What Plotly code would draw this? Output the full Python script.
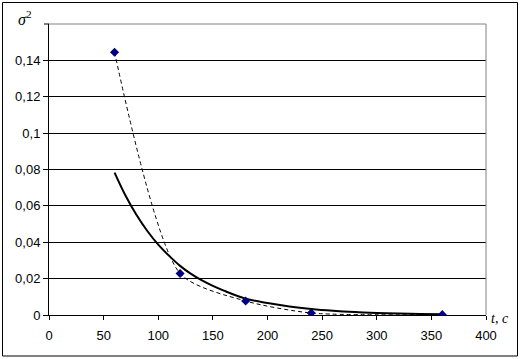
import plotly.graph_objects as go

# Measured data points
t_points = [60, 120, 180, 240, 360]
sigma2_points = [0.1445, 0.0228, 0.0077, 0.0011, 0.0002]

# Solid approximation curve
t_curve = [60, 70, 80, 90, 100, 110, 120, 130, 140, 150, 160, 180, 200, 220, 240, 260, 280, 300, 320, 340, 360]
sigma2_curve = [0.0783, 0.0657, 0.0551, 0.0462, 0.0387, 0.0325, 0.0270, 0.0226, 0.0190, 0.0160, 0.0134,
                0.0090, 0.0066, 0.0047, 0.0033, 0.0023, 0.0016, 0.0011, 0.0008, 0.0006, 0.0004]

x_ticks = [0, 50, 100, 150, 200, 250, 300, 350, 400]
y_ticks = [0, 0.02, 0.04, 0.06, 0.08, 0.1, 0.12, 0.14]
y_ticktext = ["0", "0,02", "0,04", "0,06", "0,08", "0,1", "0,12", "0,14"]

fig = go.Figure()
fig.add_trace(go.Scatter(
    x=t_points, y=sigma2_points, mode="lines",
    line=dict(color="black", width=1, dash="4px,3px", shape="spline", smoothing=0.7),
    showlegend=False, hoverinfo="skip"))
fig.add_trace(go.Scatter(
    x=t_curve, y=sigma2_curve, mode="lines",
    line=dict(color="black", width=2, shape="spline"),
    showlegend=False))
fig.add_trace(go.Scatter(
    x=t_points, y=sigma2_points, mode="markers",
    marker=dict(symbol="diamond", size=7, color="#000080"),
    showlegend=False))

font = dict(family="Liberation Sans, Arial", size=13, color="black")
W, H = 521, 359
L, R, T, B = 49, 35, 24, 44
pw, ph = W - L - R, H - T - B

def px(xp):
    return (xp - L) / pw

def py(yp):
    return (H - B - yp) / ph

fig.update_layout(
    width=W, height=H,
    margin=dict(l=L, r=R, t=T, b=B),
    paper_bgcolor="white", plot_bgcolor="white",
    font=font,
    xaxis=dict(range=[0, 400], tickvals=x_ticks, ticks="outside", ticklen=4,
               tickcolor="black", showline=True, linecolor="black", linewidth=1,
               showgrid=False, zeroline=False, tickfont=font, ticklabelstandoff=4),
    yaxis=dict(range=[0, 0.16], tickvals=y_ticks, ticktext=y_ticktext, ticks="outside",
               ticklen=5, tickcolor="black", showline=True, linecolor="black", linewidth=1,
               showgrid=True, gridcolor="black", gridwidth=1, zeroline=False, tickfont=font),
    shapes=[
        dict(type="line", xref="paper", yref="paper", x0=0, x1=1, y0=1, y1=1,
             line=dict(color="#808080", width=1)),
        dict(type="line", xref="paper", yref="paper", x0=1, x1=1, y0=0, y1=1,
             line=dict(color="#808080", width=1)),
        dict(type="line", xref="paper", yref="paper", x0=px(L - 5), x1=0, y0=1, y1=1,
             line=dict(color="black", width=1)),
        dict(type="rect", xref="paper", yref="paper",
             x0=px(2.5), x1=px(517.5), y0=py(356), y1=py(2.5),
             line=dict(color="black", width=1)),
    ],
    annotations=[
        dict(text="<i>σ</i><sup>2</sup>", xref="paper", yref="paper",
             x=px(16), y=py(18), xanchor="left", yanchor="middle", showarrow=False,
             font=dict(family="Liberation Serif, Times New Roman", size=16, color="black")),
        dict(text="<i>t</i>, <i>c</i>", xref="paper", yref="paper",
             x=px(489), y=py(318), xanchor="left", yanchor="middle", showarrow=False,
             font=dict(family="Liberation Serif, Times New Roman", size=14, color="black")),
    ],
)

fig.write_html("out.html", config={"displayModeBar": False},
               post_script="document.body.style.margin='0';")
